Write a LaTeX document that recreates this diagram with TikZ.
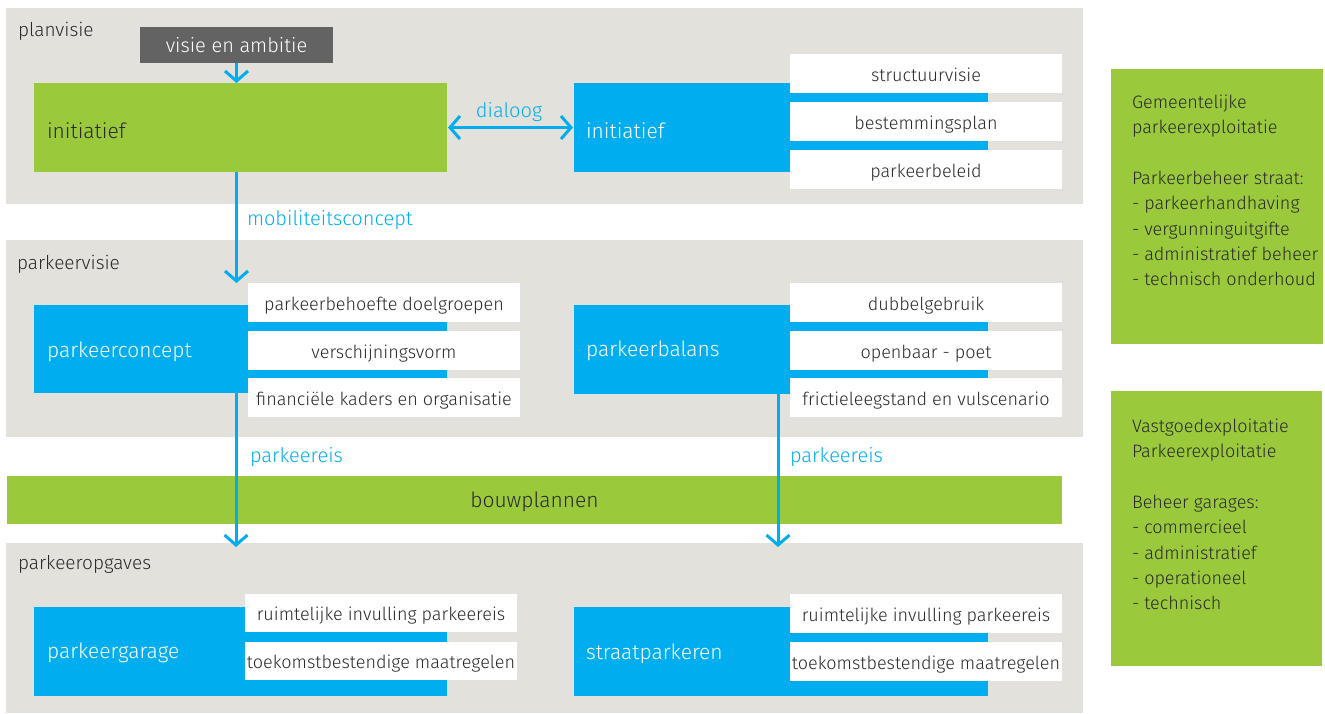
\documentclass[tikz,border=0pt]{standalone}
\usepackage{fontspec}
\setmainfont{Fira Sans Light}
\usetikzlibrary{arrows.meta}
\definecolor{bg}{HTML}{E2E1DC}
\definecolor{cblue}{HTML}{00AEEF}
\definecolor{cgreen}{HTML}{9ACA3C}
\definecolor{cdark}{HTML}{636363}
\definecolor{ctext}{HTML}{2A2A2A}
\begin{document}
\begin{tikzpicture}[x=1pt,y=-1pt,
  every node/.style={inner sep=0pt, outer sep=0pt},
  box/.style={anchor=north west, draw=none},
  panel/.style={box, fill=bg},
  bluebox/.style={box, fill=cblue},
  greenbox/.style={box, fill=cgreen},
  whitebox/.style={box, fill=white, text=ctext, minimum width=272pt, minimum height=39pt, text height=15pt, text depth=0pt, font=\fontsize{18}{22}\selectfont},
  darkbox/.style={box, fill=cdark, text=white, text height=15pt, text depth=1pt, font=\fontsize{20}{24}\selectfont},
  sec/.style={anchor=west, text=ctext, font=\fontsize{19}{23}\selectfont},
  big/.style={anchor=west, font=\fontsize{21}{25}\selectfont},
  lbl/.style={text=cblue, font=\fontsize{20}{24}\selectfont},
  legend/.style={anchor=north west, align=left, text=ctext, font=\fontsize{18}{25.3}\selectfont},
  conn/.style={draw=cblue, line width=3pt, -{Straight Barb[length=10pt,width=23pt,line width=3pt]}},
  conn2/.style={draw=cblue, line width=3pt, {Straight Barb[length=10pt,width=23pt,line width=3pt]}-{Straight Barb[length=10pt,width=23pt,line width=3pt]}}
]
\useasboundingbox (0,0) rectangle (1325,713);
\fill[white] (0,0) rectangle (1325,713);

% panels
\node[panel, minimum width=1077pt, minimum height=196pt] (p1) at (6,8) {};
\node[panel, minimum width=1077pt, minimum height=197pt] (p2) at (6,240) {};
\node[panel, minimum width=1077pt, minimum height=170pt] (p3) at (6,543) {};
\node[sec] (l1) at (18,31) {planvisie};
\node[sec] (l2) at (17,264) {parkeervisie};
\node[sec] (l3) at (18,564) {parkeeropgaves};

% planvisie
\node[darkbox, minimum width=193pt, minimum height=36pt] (visie) at (140,27) {visie en ambitie};
\node[greenbox, minimum width=413pt, minimum height=89pt] (ginit) at (34,83) {};
\node[big, text=ctext] (ginitt) at (47,131) {initiatief};
\node[bluebox, minimum width=414pt, minimum height=89pt] (binit) at (574,83) {};
\node[big, text=white] (binitt) at (586,131) {initiatief};
\node[whitebox] (w1) at (790,54) {structuurvisie};
\node[whitebox] (w2) at (790,102) {bestemmingsplan};
\node[whitebox] (w3) at (790,150) {parkeerbeleid};

% parkeervisie
\node[bluebox, minimum width=413pt, minimum height=88pt] (pconcept) at (34,305) {};
\node[big, text=white] (pconceptt) at (47,352) {parkeerconcept};
\node[whitebox] (w4) at (248,283) {parkeerbehoefte doelgroepen};
\node[whitebox] (w5) at (248,331) {verschijningsvorm};
\node[whitebox] (w6) at (248,378) {financiële kaders en organisatie};
\node[bluebox, minimum width=414pt, minimum height=89pt] (pbalans) at (574,305) {};
\node[big, text=white] (pbalanst) at (586,351) {parkeerbalans};
\node[whitebox] (w7) at (790,283) {dubbelgebruik};
\node[whitebox] (w8) at (790,331) {openbaar - poet};
\node[whitebox] (w9) at (790,378) {frictieleegstand en vulscenario};

% bouwplannen
\node[greenbox, minimum width=1055pt, minimum height=48pt, text=ctext, text height=16pt, text depth=2pt, font=\fontsize{21}{25}\selectfont] (bouw) at (7,476) {bouwplannen};

% parkeeropgaves
\node[bluebox, minimum width=413pt, minimum height=89pt] (pgarage) at (34,607) {};
\node[big, text=white] (pgaraget) at (47,653) {parkeergarage};
\node[whitebox, minimum height=38pt] (w10) at (245,594) {ruimtelijke invulling parkeereis};
\node[whitebox, minimum height=38pt] (w11) at (245,642) {toekomstbestendige maatregelen};
\node[bluebox, minimum width=414pt, minimum height=89pt] (straat) at (574,607) {};
\node[big, text=white] (straatt) at (586,654) {straatparkeren};
\node[whitebox] (w12) at (790,594) {ruimtelijke invulling parkeereis};
\node[whitebox] (w13) at (790,642) {toekomstbestendige maatregelen};

% legend
\node[greenbox, minimum width=212pt, minimum height=275pt] (g1) at (1111,69) {};
\node[legend] (g1t) at (1132,95) {Gemeentelijke\\parkeerexploitatie\\[25.3pt]Parkeerbeheer straat:\\- parkeerhandhaving\\- vergunninguitgifte\\- administratief beheer\\- technisch onderhoud};
\node[greenbox, minimum width=211pt, minimum height=275pt] (g2) at (1111,391) {};
\node[legend] (g2t) at (1132,419) {Vastgoedexploitatie\\Parkeerexploitatie\\[25.3pt]Beheer garages:\\- commercieel\\- administratief\\- operationeel\\- technisch};

% connectors
\draw[conn] (visie.south) -- (visie.south |- ginit.north);
\draw[conn2, shorten <=1pt, shorten >=1pt] (ginit.east) -- (binit.west);
\node[lbl] (dlbl) at (509,112) {dialoog};
\coordinate (t0) at (236.5,283);
\draw[conn] (t0 |- ginit.south) -- (t0);
\node[lbl, anchor=west] (mlbl) at (247,220) {mobiliteitsconcept};
\coordinate (t1) at (236,547);
\draw[conn] (t1 |- pconcept.south) -- (t1);
\node[lbl, anchor=west] (e1) at (250,457) {parkeereis};
\coordinate (t2) at (778,547);
\draw[conn] (t2 |- pbalans.south) -- (t2);
\node[lbl, anchor=west] (e2) at (790,457) {parkeereis};
\end{tikzpicture}
\end{document}
